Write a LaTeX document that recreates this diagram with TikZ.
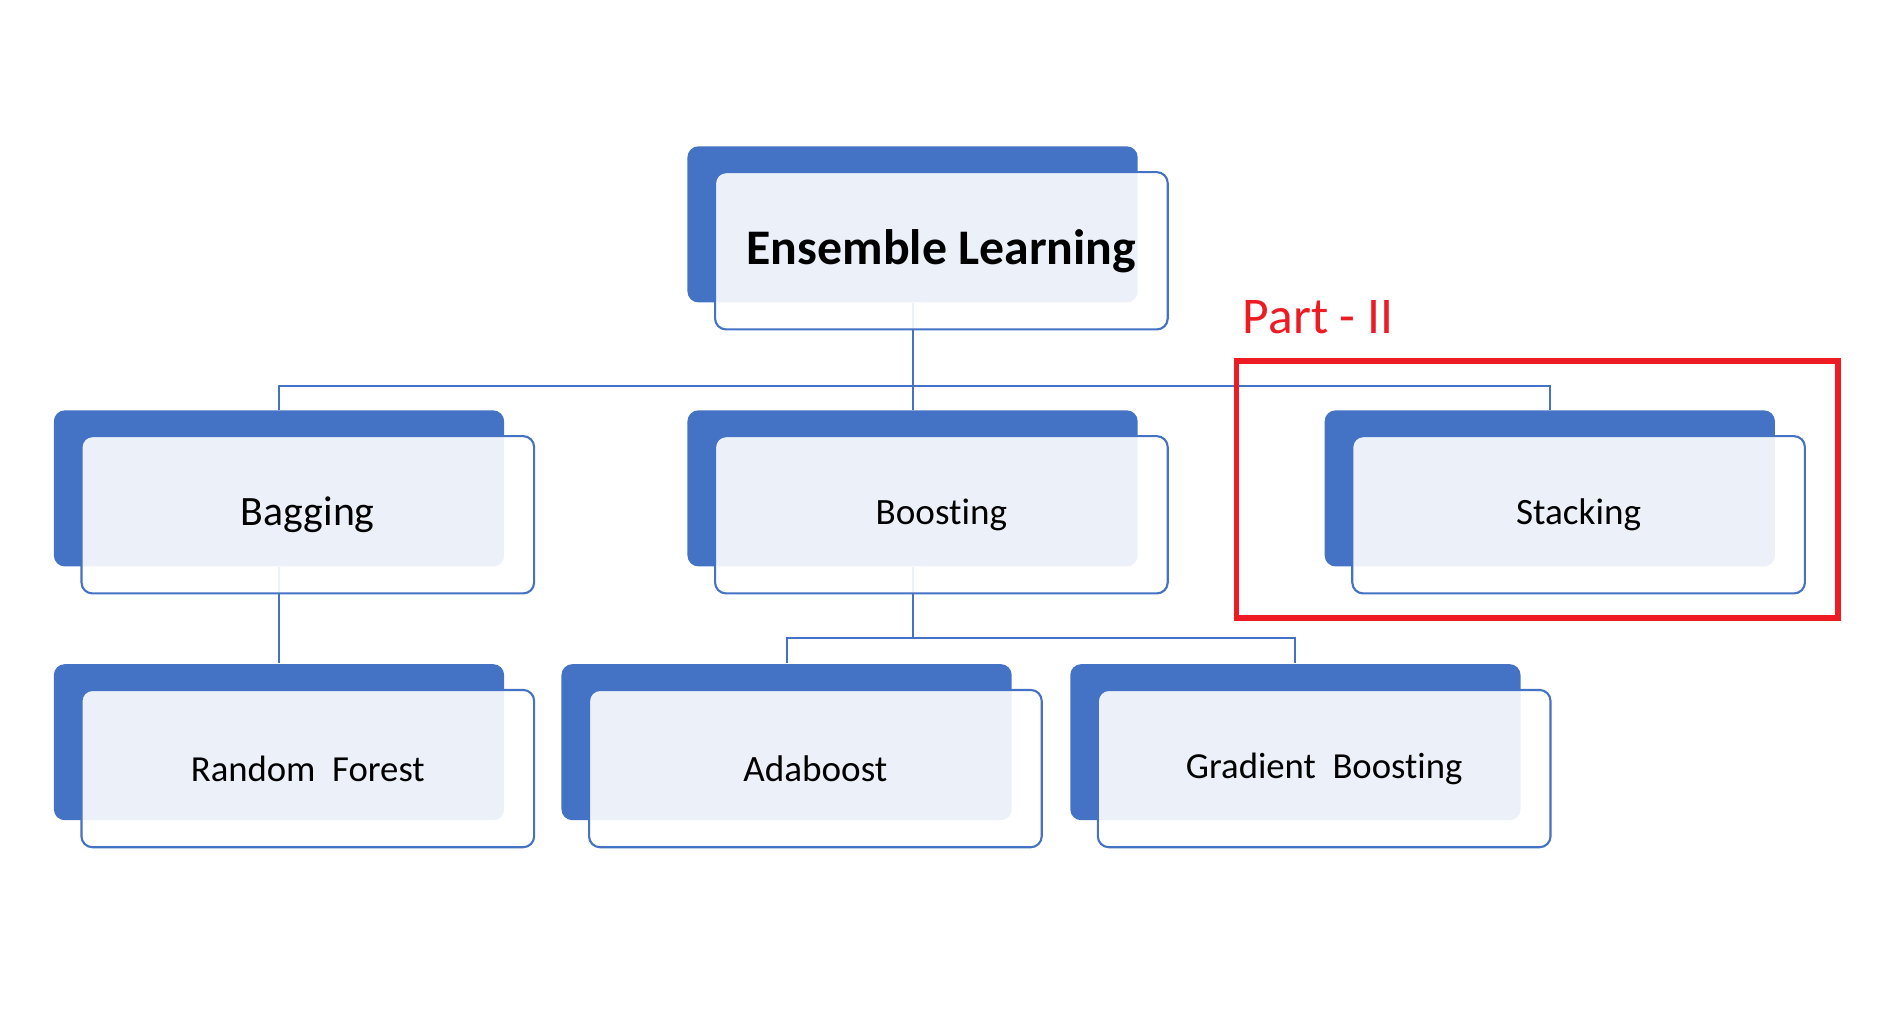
\documentclass[tikz,border=0pt]{standalone}
\usepackage{fontspec}
\setmainfont[Ligatures=NoCommon]{Carlito}
\usetikzlibrary{positioning}
\definecolor{boxblue}{RGB}{68,114,196}
\definecolor{partred}{RGB}{237,28,36}

\begin{document}
\begin{tikzpicture}[x=0.01cm, y=-0.01cm,
  backbox/.style={fill=boxblue, rounded corners=2.6pt, minimum width=3.75cm, minimum height=1.30cm, inner sep=0pt},
  frontbox/.style={draw=boxblue, line width=0.5pt, fill=white, fill opacity=0.9, text opacity=1, rounded corners=2.6pt, minimum width=3.77cm, minimum height=1.31cm, inner sep=0pt, font=\fontsize{8.8}{10}\selectfont},
  link/.style={draw=boxblue, line width=0.45pt},
  redbox/.style={draw=partred, line width=1.3pt, minimum width=5.01cm, minimum height=2.14cm, inner sep=0pt}]
\useasboundingbox (0,0) rectangle (1565,858);
% back boxes
\node(rootB) [backbox] at (760.5,187) {};
\node(bagB) [backbox] at (232.5,407) {};
\node(boostB) [backbox] at (760.5,407) {};
\node(stackB) [backbox] at (1291.5,407) {};
\node(forestB) [backbox] at (232.5,618.5) {};
\node(adaB) [backbox] at (655.5,618.5) {};
\node(gradB) [backbox] at (1079.5,618.5) {};
% connectors
\coordinate(hub1) at (760.5,322);
\coordinate(hub2) at (760.5,532);
\draw[link] (rootB.south) -- (boostB.north);
\draw[link] (bagB.north) |- (hub1) -| (stackB.north);
\draw[link] (bagB.south) -- (forestB.north);
\draw[link] (boostB.south) -- (hub2);
\draw[link] (adaB.north) |- (hub2) -| (gradB.north);
% front boxes
\node(root) [frontbox, font=\fontsize{11.8}{14}\selectfont\bfseries] at ([shift={(24,22)}]rootB.center) {Ensemble Learning};
\node(bag) [frontbox, font=\fontsize{9.9}{12}\selectfont] at ([shift={(24,22)}]bagB.center) {Bagging};
\node(boost) [frontbox] at ([shift={(24,22)}]boostB.center) {Boosting};
\node(stack) [frontbox] at ([shift={(24,22)}]stackB.center) {Stacking};
\node(forest) [frontbox, font=\fontsize{8.7}{10}\selectfont] at ([shift={(24,22)}]forestB.center) {Random~ Forest};
\node(ada) [frontbox] at ([shift={(24,22)}]adaB.center) {Adaboost};
\node(grad) [frontbox, font=\fontsize{8.7}{10}\selectfont] at ([shift={(24,22)}]gradB.center) {Gradient~ Boosting};
% part II
\node(part) [redbox] at (1281,408) {};
\node(partlabel) [anchor=base west, inner sep=0pt, text=partred, font=\fontsize{12.2}{14}\selectfont] at (1035,278) {Part - II};
\end{tikzpicture}
\end{document}
